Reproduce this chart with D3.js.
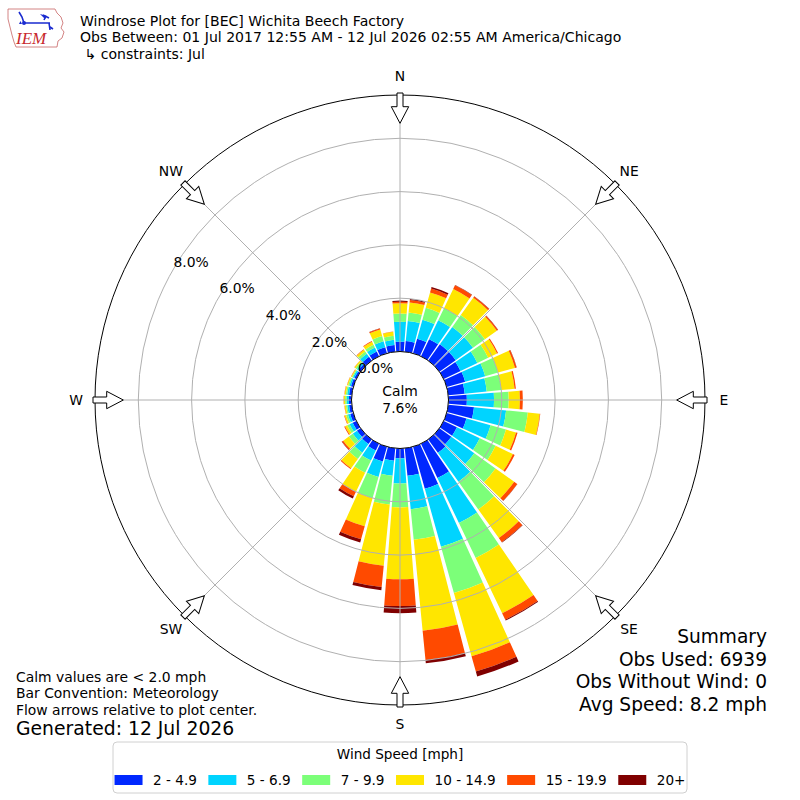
<!DOCTYPE html>
<html><head><meta charset="utf-8">
<script src="https://cdn.jsdelivr.net/npm/d3@7/dist/d3.min.js"></script>
<style>
body{margin:0;background:#fff}
svg{display:block}
text{font-family:"DejaVu Sans",sans-serif;fill:#000}
</style>
</head><body>
<svg id="chart" width="800" height="800"></svg>
<script>
// ---------------- DATA ----------------
const directions = [0,10,20,30,40,50,60,70,80,90,100,110,120,130,140,150,160,170,180,190,200,210,220,230,240,250,260,270,280,290,300,310,320,330,340,350];
const speedBins = ["2 - 4.9","5 - 6.9","7 - 9.9","10 - 14.9","15 - 19.9","20+"];
const binColors = ["#0028ff","#00d4ff","#7cff79","#ffe600","#ff4a00","#800000"];
// percent of observations per direction, per speed bin
const bin2to5   = [0.37,0.40,0.57,0.71,0.75,0.75,0.70,0.72,0.62,0.69,0.97,0.77,0.55,0.55,0.62,1.43,1.64,1.04,0.37,0.47,0.58,0.28,0.21,0.17,0.15,0.12,0.10,0.10,0.10,0.09,0.08,0.10,0.18,0.20,0.24,0.25];
const bin5to7   = [0.75,0.76,0.74,0.79,0.80,0.80,0.70,0.78,0.83,1.02,1.21,0.94,0.95,1.06,1.33,1.87,2.26,1.26,0.94,0.57,0.60,0.42,0.40,0.19,0.13,0.09,0.07,0.08,0.07,0.06,0.06,0.07,0.14,0.16,0.23,0.20];
const bin7to10  = [0.31,0.32,0.46,0.50,0.55,0.55,0.45,0.50,0.55,0.55,0.82,0.60,0.66,0.98,1.28,1.45,1.80,1.15,0.90,1.08,0.82,0.51,0.29,0.18,0.10,0.07,0.05,0.06,0.05,0.05,0.04,0.06,0.10,0.12,0.20,0.15];
const bin10to15 = [0.38,0.38,0.60,0.80,0.80,0.55,0.37,0.66,0.50,0.42,0.45,0.39,0.72,0.86,1.32,2.30,2.46,3.43,2.70,2.31,1.10,0.79,0.43,0.26,0.09,0.06,0.05,0.05,0.05,0.04,0.03,0.05,0.08,0.12,0.26,0.15];
const bin15to20 = [0.06,0.09,0.15,0.15,0.06,0.05,0.04,0.06,0.05,0.11,0.02,0.06,0.07,0.14,0.19,0.27,0.60,1.10,1.00,0.80,0.51,0.19,0.04,0.06,0.03,0.02,0.01,0.01,0.01,0.01,0.01,0.01,0.02,0.03,0.04,0.01];
const bin20plus = [0.04,0.04,0.06,0.02,0.01,0.01,0.00,0.01,0.00,0.00,0.00,0.00,0.00,0.01,0.02,0.04,0.19,0.13,0.27,0.12,0.12,0.09,0.00,0.01,0.00,0.00,0.00,0.00,0.00,0.00,0.00,0.00,0.00,0.00,0.01,0.00];
const ringTicks = [0,2,4,6,8];
const compass = [["N",0],["NE",45],["E",90],["SE",135],["S",180],["SW",225],["W",270],["NW",315]];
const calmPct = "7.6%";
const titleLines = ["Windrose Plot for [BEC] Wichita Beech Factory",
  "Obs Between: 01 Jul 2017 12:55 AM - 12 Jul 2026 02:55 AM America/Chicago",
  " \u21b3 constraints: Jul"];
const summaryLines = ["Summary","Obs Used: 6939","Obs Without Wind: 0","Avg Speed: 8.2 mph"];
const noteLines = ["Calm values are < 2.0 mph","Bar Convention: Meteorology","Flow arrows relative to plot center."];
const generatedLine = "Generated: 12 Jul 2026";
const legendTitle = "Wind Speed [mph]";

// ---------------- CHART ----------------
const svg = d3.select("#chart");
const cx = 400, cy = 400;
const rCalm = 48.5, rOuter = 305;
const rmax = 9.625;
const r = d3.scaleLinear().domain([0, rmax]).range([rCalm, rOuter]);
const rad = d => d * Math.PI / 180;

const series = [bin2to5, bin5to7, bin7to10, bin10to15, bin15to20, bin20plus];
const keys = speedBins.map((_, i) => "b" + i);
const table = directions.map((dir, j) => {
  const row = {dir};
  keys.forEach((k, i) => row[k] = series[i][j]);
  return row;
});
const stacked = d3.stack().keys(keys)(table);
const color = d3.scaleOrdinal().domain(keys).range(binColors);

const g = svg.append("g").attr("transform", `translate(${cx},${cy})`);
const halfW = rad(4.4);
const arc = d3.arc()
  .innerRadius(d => r(d[0]))
  .outerRadius(d => r(d[1]))
  .startAngle(d => rad(d.data.dir) - halfW)
  .endAngle(d => rad(d.data.dir) + halfW);

const bars = g.append("g");
stacked.forEach(layer => {
  bars.append("g").attr("fill", color(layer.key))
    .selectAll("path").data(layer.filter(d => d[1] - d[0] > 0.0001))
    .join("path").attr("d", arc);
});

// grid on top
const grid = g.append("g").attr("fill", "none").attr("stroke", "#b0b0b0").attr("stroke-width", 1);
grid.selectAll("circle").data(ringTicks.filter(v => v > 0)).join("circle").attr("r", d => r(d));
grid.selectAll("line").data(d3.range(0, 360, 45)).join("line")
  .attr("x1", d => r(0) * Math.sin(rad(d))).attr("y1", d => -r(0) * Math.cos(rad(d)))
  .attr("x2", d => r(rmax) * Math.sin(rad(d))).attr("y2", d => -r(rmax) * Math.cos(rad(d)));

// outer circle
g.append("circle").attr("r", r(rmax)).attr("fill", "none").attr("stroke", "#000").attr("stroke-width", 1);
// calm circle
g.append("circle").attr("r", r(0)).attr("fill", "#fff").attr("stroke", "#000").attr("stroke-width", 1);
g.append("text").attr("x", 0).attr("y", -4).attr("text-anchor", "middle").style("font-size", "13.9px").text("Calm");
g.append("text").attr("x", 0).attr("y", 12.5).attr("text-anchor", "middle").style("font-size", "13.9px").text(calmPct);

// ring labels along 300 degrees
const labAng = rad(300);
g.append("g").selectAll("text").data(ringTicks).join("text")
  .attr("x", d => r(d) * Math.sin(labAng))
  .attr("y", d => -r(d) * Math.cos(labAng) - 2.5)
  .style("font-size", "13.9px")
  .text(d => d.toFixed(1) + "%");

// arrows
const arrowPts = [[-3,-307],[3,-307],[3,-293.3],[8.7,-293.3],[0,-276.7],[-8.7,-293.3],[-3,-293.3]];
g.append("g").selectAll("path").data(compass).join("path")
  .attr("transform", d => `rotate(${d[1]})`)
  .attr("d", d3.line()(arrowPts) + "Z")
  .attr("fill", "#fff").attr("stroke", "#000").attr("stroke-width", 1);

// compass labels
g.append("g").selectAll("text").data(compass).join("text")
  .attr("x", d => 324 * Math.sin(rad(d[1])))
  .attr("y", d => -324 * Math.cos(rad(d[1])))
  .attr("text-anchor", "middle").attr("dy", "0.36em")
  .style("font-size", "13.9px")
  .text(d => d[0]);

// ---------------- TEXT ----------------
svg.append("g").selectAll("text").data(titleLines).join("text")
  .attr("x", 80).attr("y", (d, i) => 25.5 + i * 16.5)
  .style("font-size", "14.05px").style("white-space", "pre").attr("xml:space", "preserve")
  .text(d => d);

svg.append("g").selectAll("text").data(summaryLines).join("text")
  .attr("x", 767).attr("y", (d, i) => 643 + i * 22.6)
  .attr("text-anchor", "end").style("font-size", "18.6px").text(d => d);

svg.append("g").selectAll("text").data(noteLines).join("text")
  .attr("x", 16).attr("y", (d, i) => 681.5 + i * 16.6)
  .style("font-size", "13.9px").text(d => d);
svg.append("text").attr("x", 16).attr("y", 734.5).style("font-size", "18.8px").text(generatedLine);

// ---------------- LEGEND ----------------
const leg = svg.append("g");
leg.append("rect").attr("x", 113).attr("y", 742).attr("width", 574).attr("height", 51)
  .attr("rx", 4).attr("fill", "#fff").attr("stroke", "#d0d0d0").attr("stroke-width", 1);
leg.append("text").attr("x", 400).attr("y", 759).attr("text-anchor", "middle")
  .style("font-size", "13.6px").text(legendTitle);
const items = leg.append("g");
let xpos = 0;
speedBins.forEach((lab, i) => {
  const it = items.append("g").attr("transform", `translate(${xpos},0)`);
  it.append("rect").attr("x", 0).attr("y", 775).attr("width", 28).attr("height", 10).attr("fill", binColors[i]);
  const t = it.append("text").attr("x", 38.5).attr("y", 784.5).style("font-size", "13.6px").text(lab);
  xpos += 38.5 + t.node().getComputedTextLength() + 11.5;
});
const totalW = xpos - 11.5;
items.attr("transform", `translate(${400 - totalW / 2},0)`);

// ---------------- LOGO ----------------
const logo = svg.append("g");
logo.append("path")
  .attr("d", "M8,9 L55,9 L57,13 L61,17 L63,23 L61,28 L64,32 L62,38 L58,41 L57,47 L16,47 L14,42 L12,35 L10,27 L8,19 Z")
  .attr("fill", "#fff").attr("stroke", "#c86464").attr("stroke-width", 0.8);
const blue = "#1a2bd0";
logo.append("path").attr("d", "M19,12 L22,17 L24,23 M24,23 L50,23 M43,15 L49,18 M46,16 L44,20 M49,23 L50,30 M50,27 L53,29")
  .attr("fill", "none").attr("stroke", blue).attr("stroke-width", 1.6);
logo.append("path").attr("d", "M40,14 L47,16 L45,19 Z").attr("fill", blue);
logo.append("circle").attr("cx", 24).attr("cy", 23).attr("r", 2).attr("fill", blue);
logo.append("path").attr("d", "M19,24 L22,24 L20.5,21 Z").attr("fill", blue);
logo.append("text").attr("x", 16).attr("y", 44).style("font-family", "'Liberation Serif','DejaVu Serif',serif")
  .style("font-style", "italic").style("font-size", "17px").style("fill", "#c8282d").text("IEM");
</script>
</body></html>
